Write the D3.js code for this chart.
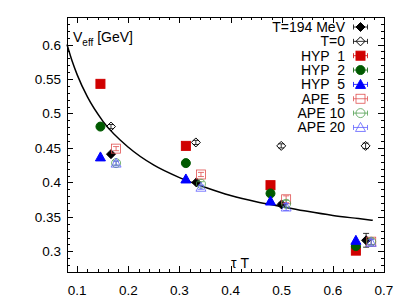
<!DOCTYPE html>
<html>
<head>
<meta charset="utf-8">
<script src="https://cdn.jsdelivr.net/npm/d3@7"></script>
<style>
  body { margin: 0; background: #fff; }
  svg { display: block; font-family: "Liberation Sans", Arial, sans-serif; }
</style>
</head>
<body>
<div class="graph"></div>
<script>
// tau*T positions and V_eff values
const seriesNames = ["T=194 MeV", "T=0", "HYP  1", "HYP  2", "HYP  5", "APE  5", "APE 10", "APE 20"];
const t194X = [0.166, 0.333, 0.4996, 0.665];
const t194Y = [0.441, 0.400, 0.368, 0.316];
const t194Err = [0.002, 0.002, 0.003, 0.010];
const t0X = [0.166, 0.332, 0.499, 0.664];
const t0Y = [0.481, 0.458, 0.453, 0.453];
const t0Err = [0.003, 0.003, 0.003, 0.004];
const hypX = [0.1454, 0.3125, 0.478, 0.645];
const hyp1Y = [0.543, 0.453, 0.396, 0.301];
const hyp2Y = [0.481, 0.428, 0.384, 0.3075];
const hyp5Y = [0.437, 0.405, 0.373, 0.316];
const apeX = [0.176, 0.342, 0.5086, 0.675];
const ape5Y = [0.449, 0.4115, 0.3755, 0.314];
const ape10Y = [0.428, 0.398, 0.369, 0.314];
const ape20Y = [0.428, 0.393, 0.3643, 0.313];
const apeErr = [0.003, 0.003, 0.005, 0.004];

// fit curve
const curveX = [0.08, 0.09, 0.10, 0.12, 0.15, 0.20, 0.25, 0.30, 0.35, 0.40, 0.45, 0.50, 0.55, 0.60, 0.65, 0.678];
const curveY = [0.600, 0.576, 0.556, 0.524, 0.489, 0.451, 0.425, 0.407, 0.393, 0.381, 0.372, 0.365, 0.358, 0.352, 0.3475, 0.345];

const xTicks = [0.1, 0.2, 0.3, 0.4, 0.5, 0.6, 0.7];
const yTicks = [0.3, 0.35, 0.4, 0.45, 0.5, 0.55, 0.6];

const W = 409, H = 301;
const margins = { top: 17, right: 25, bottom: 29, left: 67 };
const width = W - margins.left - margins.right;
const height = H - margins.top - margins.bottom;

const red = "#d00000", green = "#005a00", blue = "#0000ff";

const series = [
  { name: seriesNames[0], xs: t194X, ys: t194Y, err: t194Err, shape: "diamond", fill: "#000", stroke: "#000", sw: 1 },
  { name: seriesNames[1], xs: t0X, ys: t0Y, err: t0Err, shape: "diamond", fill: "none", stroke: "#000", sw: 1 },
  { name: seriesNames[2], xs: hypX, ys: hyp1Y, err: [0, 0, 0, 0], shape: "square", fill: red, stroke: red, sw: 1 },
  { name: seriesNames[3], xs: hypX, ys: hyp2Y, err: [0, 0, 0, 0], shape: "circle", fill: green, stroke: green, sw: 1 },
  { name: seriesNames[4], xs: hypX, ys: hyp5Y, err: [0, 0, 0, 0], shape: "triangle", fill: blue, stroke: blue, sw: 1 },
  { name: seriesNames[5], xs: apeX, ys: ape5Y, err: apeErr, shape: "square", fill: "none", stroke: "#e05050", sw: 0.8 },
  { name: seriesNames[6], xs: apeX, ys: ape10Y, err: apeErr, shape: "circle", fill: "none", stroke: "#50a050", sw: 0.8 },
  { name: seriesNames[7], xs: apeX, ys: ape20Y, err: apeErr, shape: "triangle", fill: "none", stroke: "#6060ff", sw: 0.8 },
];

const svg = d3.select(".graph").append("svg").attr("width", W).attr("height", H);
const g = svg.append("g").attr("transform", `translate(${margins.left},${margins.top})`);

const x = d3.scaleLinear().domain([0.08, 0.7]).range([0, width]);
const y = d3.scaleLinear().domain([0.27, 0.64]).range([height, 0]);

// ticks on all four sides, pointing inward
const xMinor = d3.range(0.08, 0.7001, 0.02);
const yMinor = d3.range(0.27, 0.6401, 0.01);
const tickG = g.append("g").attr("stroke", "#000").attr("stroke-width", 1);
xMinor.forEach((v) => {
  const isMajor = xTicks.some((t) => Math.abs(t - v) < 1e-6);
  const len = isMajor ? 6 : 3;
  const px = Math.round(x(v)) + 0.5;
  tickG.append("line").attr("x1", px).attr("x2", px).attr("y1", height).attr("y2", height - len);
  tickG.append("line").attr("x1", px).attr("x2", px).attr("y1", 0).attr("y2", len);
});
yMinor.forEach((v) => {
  const isMajor = yTicks.some((t) => Math.abs(t - v) < 1e-6);
  const len = isMajor ? 6 : 3;
  const py = Math.round(y(v)) + 0.5;
  tickG.append("line").attr("x1", 0).attr("x2", len).attr("y1", py).attr("y2", py);
  tickG.append("line").attr("x1", width).attr("x2", width - len).attr("y1", py).attr("y2", py);
});

// tick labels
g.selectAll(".xl").data(xTicks).enter().append("text")
  .attr("x", (d) => x(d)).attr("y", height + 23)
  .attr("text-anchor", "middle").attr("font-size", 13.5)
  .text((d) => d3.format(".1f")(d));
g.selectAll(".yl").data(yTicks).enter().append("text")
  .attr("x", -6).attr("y", (d) => y(d) + 5)
  .attr("text-anchor", "end").attr("font-size", 13.5)
  .text((d) => d3.format("")(d));

// frame
g.append("rect").attr("x", 0.5).attr("y", 0.5).attr("width", width).attr("height", height)
  .attr("fill", "none").attr("stroke", "#000").attr("stroke-width", 1);

// axis labels
const yl = g.append("text").attr("x", 6).attr("y", 25).attr("font-size", 14);
yl.append("tspan").text("V");
yl.append("tspan").attr("font-size", 10).attr("dy", 4).text("eff");
yl.append("tspan").attr("dy", -4).text(" [GeV]");
g.append("text").attr("x", 164).attr("y", 251).attr("font-size", 14).text("τ T");

// curve
const line = d3.line().x((d) => x(d[0])).y((d) => y(d[1])).curve(d3.curveMonotoneX);
g.append("path").datum(curveX.map((v, i) => [v, curveY[i]]))
  .attr("fill", "none").attr("stroke", "#000").attr("stroke-width", 1.5).attr("d", line);

function drawSymbol(sel, s, cx, cy) {
  let el;
  if (s.shape === "square") {
    el = sel.append("rect").attr("x", cx - 4.5).attr("y", cy - 4.5).attr("width", 9).attr("height", 9);
  } else if (s.shape === "circle") {
    el = sel.append("circle").attr("cx", cx).attr("cy", cy).attr("r", 4.5);
  } else if (s.shape === "triangle") {
    el = sel.append("path").attr("d", `M${cx},${cy - 5}L${cx + 5},${cy + 4}L${cx - 5},${cy + 4}Z`);
  } else {
    el = sel.append("path").attr("d", `M${cx},${cy - 4.5}L${cx + 4.5},${cy}L${cx},${cy + 4.5}L${cx - 4.5},${cy}Z`);
  }
  el.attr("fill", s.fill).attr("stroke", s.stroke).attr("stroke-width", s.sw);
}

// points with vertical error bars
series.forEach((s) => {
  const sg = g.append("g");
  s.xs.forEach((xv, i) => {
    const cx = x(xv), cy = y(s.ys[i]);
    const e = s.err[i];
    if (e > 0) {
      const y1 = y(s.ys[i] - e), y2 = y(s.ys[i] + e);
      sg.append("line").attr("x1", cx).attr("x2", cx).attr("y1", y1).attr("y2", y2)
        .attr("stroke", s.stroke).attr("stroke-width", 0.8);
      [y1, y2].forEach((yy) => sg.append("line").attr("x1", cx - 3).attr("x2", cx + 3)
        .attr("y1", yy).attr("y2", yy).attr("stroke", s.stroke).attr("stroke-width", 0.8));
    }
    drawSymbol(sg, s, cx, cy);
  });
});

// legend
const legend = g.append("g");
series.forEach((s, i) => {
  const ly = 10 + i * 14.35;
  legend.append("text").attr("x", 278).attr("y", ly + 5).attr("text-anchor", "end")
    .attr("font-size", 14).attr("xml:space", "preserve").style("white-space", "pre").text(s.name);
  const cx = 293.5;
  legend.append("line").attr("x1", cx - 7).attr("x2", cx + 7).attr("y1", ly).attr("y2", ly)
    .attr("stroke", s.stroke).attr("stroke-width", 0.8);
  [cx - 7, cx + 7].forEach((xx) => legend.append("line").attr("x1", xx).attr("x2", xx)
    .attr("y1", ly - 2.5).attr("y2", ly + 2.5).attr("stroke", s.stroke).attr("stroke-width", 0.8));
  drawSymbol(legend, s, cx, ly);
});
</script>
</body>
</html>
